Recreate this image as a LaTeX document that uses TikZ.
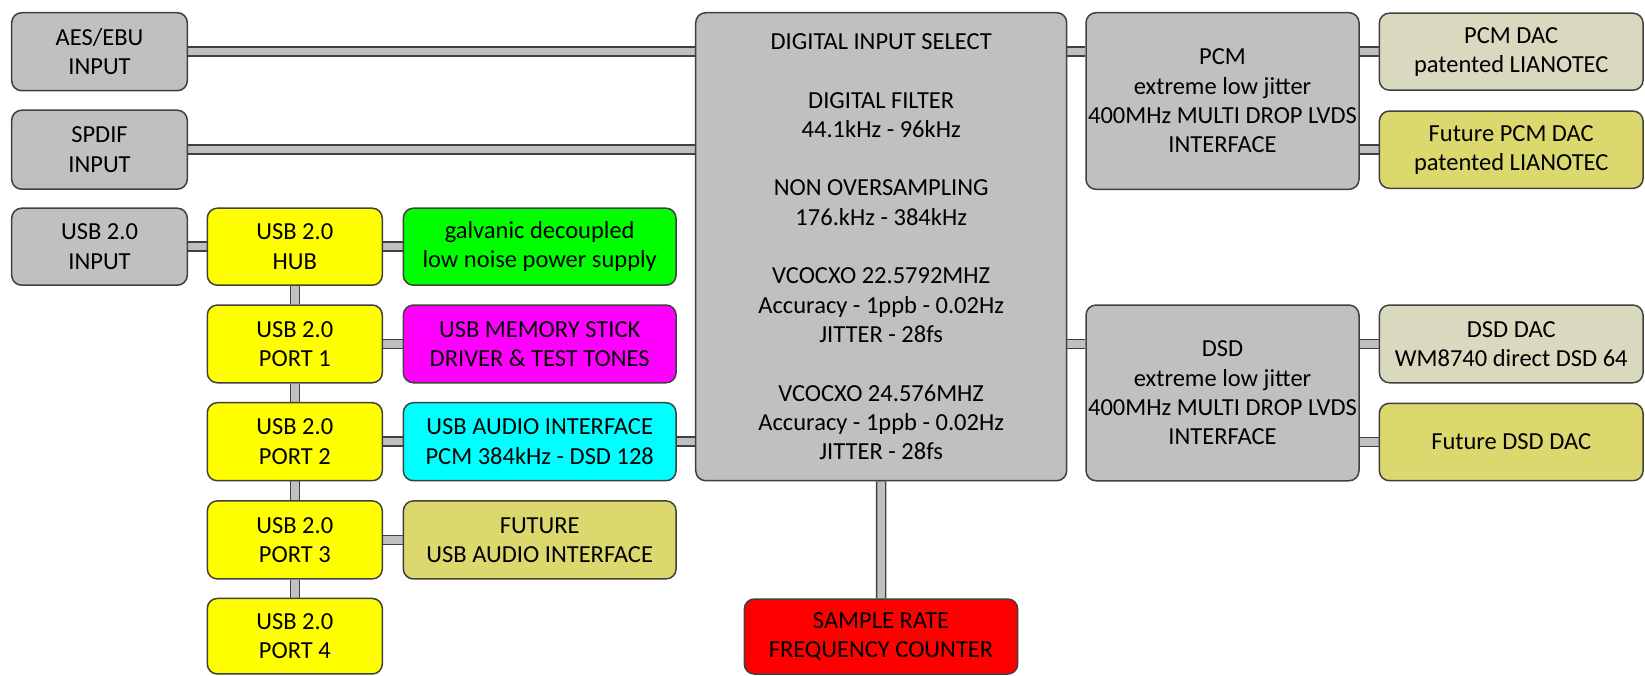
\documentclass[tikz,border=0pt]{standalone}
\usepackage{fontspec}
\setmainfont{Carlito}
\usetikzlibrary{backgrounds}
\definecolor{boxgrey}{HTML}{C0C0C0}
\definecolor{edge}{HTML}{404040}
\definecolor{futol}{HTML}{DBD96E}
\definecolor{dacbeige}{HTML}{D9D9BF}
\definecolor{cyel}{HTML}{FFFF00}
\definecolor{cgrn}{HTML}{00FF00}
\definecolor{cmag}{HTML}{FF00FF}
\definecolor{ccya}{HTML}{00FFFF}
\definecolor{cred}{HTML}{FF0000}
\tikzset{
  blk/.style={draw=edge, line width=1.5pt, rounded corners=10pt, align=center,
    inner sep=0pt, text=black, font=\fontsize{24.5}{29.3}\selectfont},
  conn/.style={draw=edge, line width=1.5pt, double=boxgrey, double distance=7.5pt},
}
\begin{document}
\begin{tikzpicture}[x=1pt,y=-1pt]
\useasboundingbox (0,0) rectangle (1645,675);
% left inputs
\node[blk, fill=boxgrey, minimum width=175.6pt, minimum height=78pt] (aes) at (99.5,51.7) {AES/EBU\\INPUT};
\node[blk, fill=boxgrey, minimum width=175.6pt, minimum height=79pt] (spdif) at (99.5,149.7) {SPDIF\\INPUT};
\node[blk, fill=boxgrey, minimum width=175.6pt, minimum height=77pt] (usbin) at (99.5,246.7) {USB 2.0\\INPUT};
% usb column
\node[blk, fill=cyel, minimum width=175pt, minimum height=77pt] (hub) at (294.8,246.7) {USB 2.0\\HUB};
\node[blk, fill=cyel, minimum width=175pt, minimum height=77.7pt] (port1) at (294.8,343.9) {USB 2.0\\PORT 1};
\node[blk, fill=cyel, minimum width=175pt, minimum height=78pt] (port2) at (294.8,441.7) {USB 2.0\\PORT 2};
\node[blk, fill=cyel, minimum width=175pt, minimum height=78pt] (port3) at (294.8,539.9) {USB 2.0\\PORT 3};
\node[blk, fill=cyel, minimum width=175pt, minimum height=75.5pt] (port4) at (294.8,636.2) {USB 2.0\\PORT 4};
% function boxes
\node[blk, fill=cgrn, minimum width=272.7pt, minimum height=77pt] (power) at (539.7,246.7) {galvanic decoupled\\low noise power supply};
\node[blk, fill=cmag, minimum width=272.7pt, minimum height=77.7pt] (stick) at (539.7,343.9) {USB MEMORY STICK\\DRIVER \& TEST TONES};
\node[blk, fill=ccya, minimum width=272.7pt, minimum height=78pt] (audio) at (539.7,441.7) {USB AUDIO INTERFACE\\PCM 384kHz - DSD 128};
\node[blk, fill=futol, minimum width=272.7pt, minimum height=78pt] (futaudio) at (539.7,539.9) {FUTURE\\USB AUDIO INTERFACE};
% central
\node[blk, fill=boxgrey, minimum width=371pt, minimum height=468pt] (dsp) at (881.2,246.7)
  {DIGITAL INPUT SELECT\\[29.3pt]DIGITAL FILTER\\44.1kHz - 96kHz\\[29.3pt]NON OVERSAMPLING\\176.kHz - 384kHz\\[29.3pt]VCOCXO 22.5792MHZ\\Accuracy - 1ppb - 0.02Hz\\JITTER - 28fs\\[29.3pt]VCOCXO 24.576MHZ\\Accuracy - 1ppb - 0.02Hz\\JITTER - 28fs};
\node[blk, fill=cred, minimum width=273.4pt, minimum height=75pt] (counter) at (881,636.5) {SAMPLE RATE\\FREQUENCY COUNTER};
% interfaces
\node[blk, fill=boxgrey, minimum width=273pt, minimum height=176.6pt] (pcm) at (1222.5,101) {PCM\\extreme low jitter\\400MHz MULTI DROP LVDS\\INTERFACE};
\node[blk, fill=boxgrey, minimum width=273pt, minimum height=175.7pt] (dsd) at (1222.5,392.9) {DSD\\extreme low jitter\\400MHz MULTI DROP LVDS\\INTERFACE};
% dacs
\node[blk, fill=dacbeige, minimum width=263.7pt, minimum height=77pt] (pcmdac) at (1511.2,51.7) {PCM DAC\\patented LIANOTEC};
\node[blk, fill=futol, minimum width=263.7pt, minimum height=77.3pt] (futpcm) at (1511.2,149.7) {Future PCM DAC\\patented LIANOTEC};
\node[blk, fill=dacbeige, minimum width=263.7pt, minimum height=77.7pt] (dsddac) at (1511.2,343.9) {DSD DAC\\WM8740 direct DSD 64};
\node[blk, fill=futol, minimum width=263.7pt, minimum height=77.4pt] (futdsd) at (1511.2,442) {Future DSD DAC};
% connectors
\begin{pgfonlayer}{background}
\draw[conn] (aes.east) -- (aes.east -| dsp.west);
\draw[conn] (spdif.east) -- (spdif.east -| dsp.west);
\draw[conn] (usbin.east) -- (hub.west);
\draw[conn] (hub.east) -- (power.west);
\draw[conn] (hub.south) -- (port1.north);
\draw[conn] (port1.south) -- (port2.north);
\draw[conn] (port2.south) -- (port3.north);
\draw[conn] (port3.south) -- (port4.north);
\draw[conn] (port1.east) -- (stick.west);
\draw[conn] (port2.east) -- (audio.west);
\draw[conn] (port3.east) -- (futaudio.west);
\draw[conn] (audio.east) -- (audio.east -| dsp.west);
\draw[conn] (dsp.south) -- (counter.north);
\draw[conn] (dsp.east |- pcmdac.west) -- (pcm.west |- pcmdac.west);
\draw[conn] (dsp.east |- dsddac.west) -- (dsd.west |- dsddac.west);
\draw[conn] (pcm.east |- pcmdac.west) -- (pcmdac.west);
\draw[conn] (pcm.east |- futpcm.west) -- (futpcm.west);
\draw[conn] (dsd.east |- dsddac.west) -- (dsddac.west);
\draw[conn] (dsd.east |- futdsd.west) -- (futdsd.west);
\end{pgfonlayer}
\end{tikzpicture}
\end{document}
